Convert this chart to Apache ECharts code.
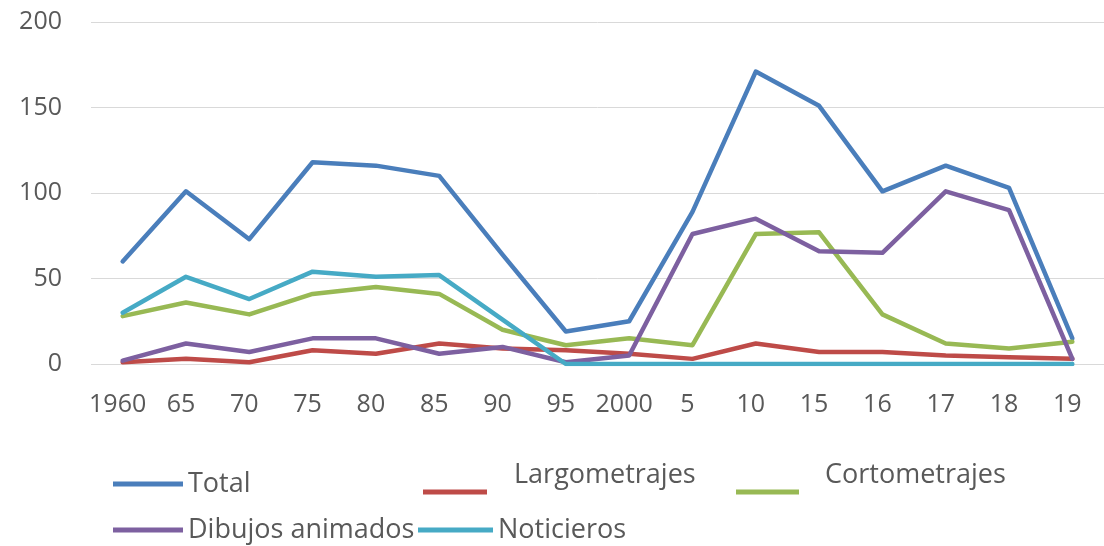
<!DOCTYPE html>
<html>
<head>
<meta charset="utf-8">
<script src="https://cdn.jsdelivr.net/npm/echarts@6/dist/echarts.min.js"></script>
<style>
    html, body { margin: 0; padding: 0; background: #fff; }
    #chart { width: 1104px; height: 546px; }
</style>
</head>
<body>
<div id="chart"></div>
<script>
const categories = ['1960', '65', '70', '75', '80', '85', '90', '95', '2000', '5', '10', '15', '16', '17', '18', '19']
const yTicks = [0, 50, 100, 150, 200]

const total = [60, 101, 73, 118, 116, 110, 64, 19, 25, 89, 171, 151, 101, 116, 103, 15]
const largometrajes = [1, 3, 1, 8, 6, 12, 9, 8, 6, 3, 12, 7, 7, 5, 4, 3]
const cortometrajes = [28, 36, 29, 41, 45, 41, 20, 11, 15, 11, 76, 77, 29, 12, 9, 13]
const dibujos = [2, 12, 7, 15, 15, 6, 10, 1, 5, 76, 85, 66, 65, 101, 90, 3]
const noticieros = [30, 51, 38, 54, 51, 52, 26, 0, 0, 0, 0, 0, 0, 0, 0, 0]

const seriesNames = ['Total', 'Largometrajes', 'Cortometrajes', 'Dibujos animados', 'Noticieros']
const seriesData = [total, largometrajes, cortometrajes, dibujos, noticieros]
const colors = ['#4A7EBB', '#BE4B48', '#98B954', '#7D60A0', '#46AAC5']

const textColor = '#595959'
const font = '"Open Sans", "Noto Sans", sans-serif'

// one legend per entry, the reference places them by hand
// raised: text sits about half a line above its icon
function legendItem(name, left, top, width, padLeft, raised) {
    return {
        data: [name],
        left: left,
        top: top,
        padding: 0,
        icon: 'rect',
        itemWidth: width,
        itemHeight: 5,
        itemGap: 0,
        selectedMode: false,
        formatter: raised ? (n => n + '\n ') : (n => n),
        textStyle: {
            color: textColor,
            fontFamily: font,
            fontSize: 27,
            lineHeight: raised ? 34 : 30,
            padding: [0, 0, 0, padLeft]
        }
    }
}

const chart = echarts.init(document.getElementById('chart'))

const option = {
    animation: false,
    color: colors,
    grid: {
        left: 91,
        top: 22,
        width: 1018,
        height: 342
    },
    legend: [
        legendItem('Total', 113, 469, 70, 0, false),
        legendItem('Largometrajes', 423, 458, 64, 22, true),
        legendItem('Cortometrajes', 736, 458, 63, 21, true),
        legendItem('Dibujos animados', 113, 515, 70, 0, false),
        legendItem('Noticieros', 418, 515, 75, 0, false)
    ],
    xAxis: {
        type: 'category',
        data: categories,
        boundaryGap: true,
        axisLine: { show: false },
        axisTick: { show: false },
        axisLabel: {
            color: textColor,
            fontFamily: font,
            fontSize: 25,
            margin: 28,
            interval: 0,
            padding: [0, 10, 0, 0]
        }
    },
    yAxis: {
        type: 'value',
        min: yTicks[0],
        max: yTicks[yTicks.length - 1],
        interval: 50,
        axisLine: { show: false },
        axisTick: { show: false },
        axisLabel: {
            color: textColor,
            fontFamily: font,
            fontSize: 25,
            margin: 29
        },
        splitLine: {
            lineStyle: { color: '#d9d9d9', width: 1 }
        }
    },
    series: seriesNames.map((name, i) => ({
        name: name,
        type: 'line',
        data: seriesData[i],
        showSymbol: false,
        symbol: 'none',
        lineStyle: {
            width: 4.5,
            color: colors[i],
            cap: 'round',
            join: 'round'
        }
    }))
}

chart.setOption(option)
</script>
</body>
</html>
